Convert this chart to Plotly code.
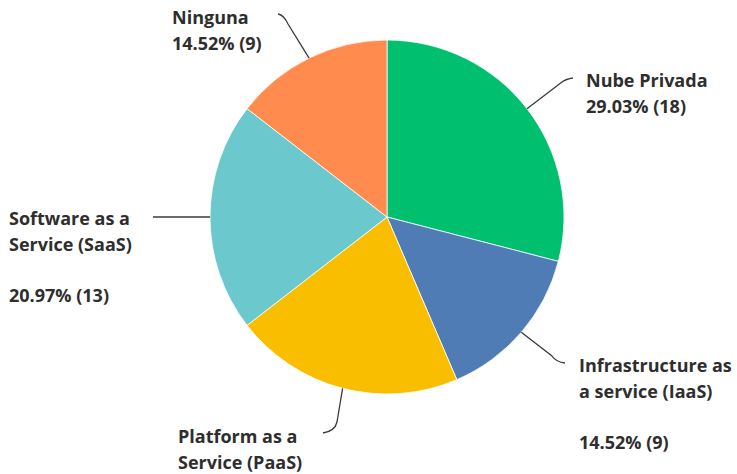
import math
import plotly.graph_objects as go

# Survey answers (count of respondents per option)
categories = ["Nube Privada", "Infrastructure as a service (IaaS)",
              "Platform as a Service (PaaS)", "Software as a Service (SaaS)", "Ninguna"]
counts = [18, 9, 13, 13, 9]
colors = ["#00BF6F", "#507CB6", "#F9BE00", "#6BC8CD", "#FF8B4F"]

W, H = 737, 474
CX, CY, R = 387, 217, 177  # pie centre and radius in pixels

total = sum(counts)
pcts = [100 * c / total for c in counts]
pct_text = [f"{p:.2f}% ({c})" for p, c in zip(pcts, counts)]

# Label lines, left edge x and vertical centre of the first line
label_lines = [
    ["Nube Privada", pct_text[0]],
    ["Infrastructure as", "a service (IaaS)", "", pct_text[1]],
    ["Platform as a", "Service (PaaS)"],
    ["Software as a", "Service (SaaS)", "", pct_text[3]],
    ["Ninguna", pct_text[4]],
]
label_pos = [(584, 79), (577, 364), (176, 435), (7, 217), (170, 16)]
LINE_PITCH = 25.5

# Leader line shape after leaving the slice edge: (elbow, curve control, end)
leader_tail = [
    ((562, 82), (566, 79), (573, 78)),
    ((552, 356), (556, 362), (565, 363)),
    ((337, 422), (335, 431), (323, 433)),
    (None, None, (153, None)),
    ((288, 24), (284, 15), (278, 14)),
]

fig = go.Figure()

fig.add_trace(go.Pie(
    labels=categories,
    values=counts,
    marker=dict(colors=colors, line=dict(color="white", width=0.8)),
    sort=False,
    direction="clockwise",
    rotation=0,
    textinfo="none",
    hoverinfo="label+percent+value",
    showlegend=False,
    domain=dict(x=[(CX - R) / W, (CX + R) / W], y=[1 - (CY + R) / H, 1 - (CY - R) / H]),
))

# Invisible pixel-space axes for the labels and leader lines
fig.add_trace(go.Scatter(x=[0, W], y=[0, H], mode="markers",
                         marker=dict(opacity=0), hoverinfo="skip", showlegend=False))

shapes = []
annotations = []
cum = 0
for i, c in enumerate(counts):
    theta = 2 * math.pi * (cum + c / 2) / total
    cum += c
    ex = CX + R * math.sin(theta)
    ey = CY - R * math.cos(theta)
    elbow, ctrl, end = leader_tail[i]
    if elbow is None:
        path = f"M {ex:.1f} {ey:.1f} L {end[0]} {ey:.1f}"
    else:
        path = (f"M {ex:.1f} {ey:.1f} L {elbow[0]} {elbow[1]} "
                f"Q {ctrl[0]} {ctrl[1]} {end[0]} {end[1]}")
    shapes.append(dict(type="path", path=path, xref="x", yref="y",
                       line=dict(color="#3a3a3a", width=1.3)))

    lx, ly = label_pos[i]
    for j, line in enumerate(label_lines[i]):
        if not line:
            continue
        annotations.append(dict(
            x=lx, y=ly + j * LINE_PITCH + 1, xref="x", yref="y",
            text=line, showarrow=False, xanchor="left", yanchor="middle",
            font=dict(family="Open Sans", size=18, color="#2e2e2e", weight=700),
        ))

fig.update_layout(
    width=W, height=H,
    margin=dict(l=0, r=0, t=0, b=0),
    paper_bgcolor="white", plot_bgcolor="white",
    xaxis=dict(range=[0, W], visible=False, fixedrange=True),
    yaxis=dict(range=[H, 0], visible=False, fixedrange=True),
    shapes=shapes,
    annotations=annotations,
)

fig.write_html("out.html")
